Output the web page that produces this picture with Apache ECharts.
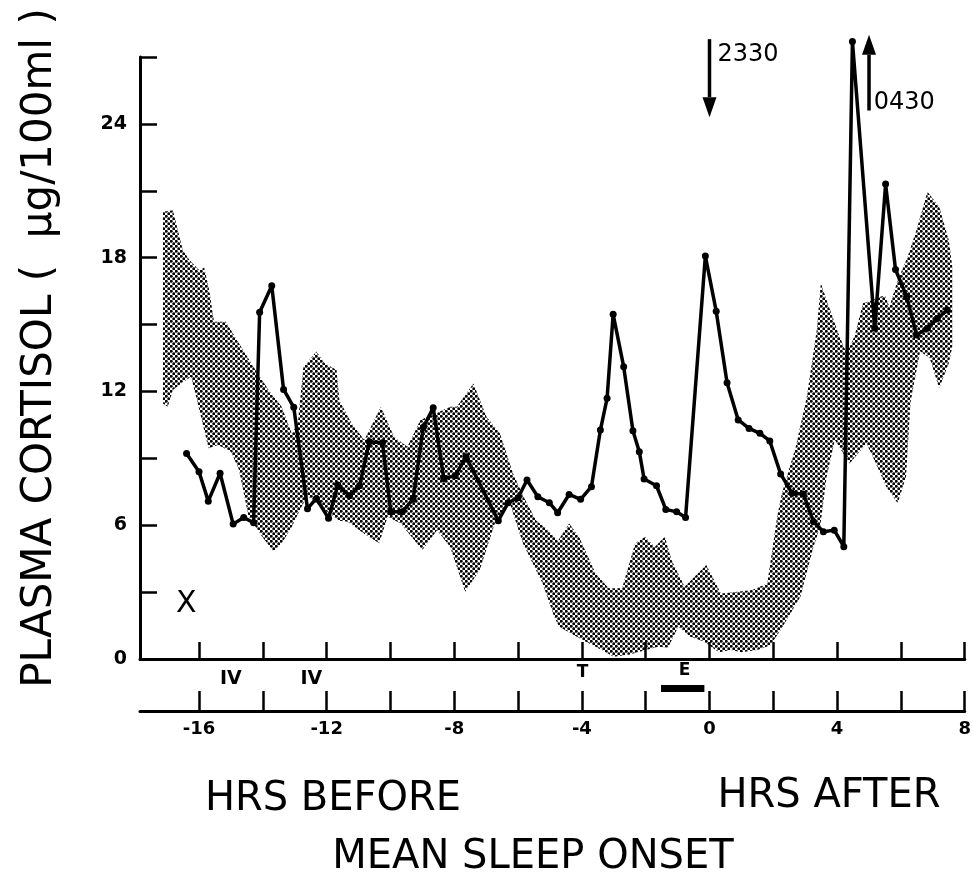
<!DOCTYPE html>
<html>
<head>
<meta charset="utf-8">
<script src="https://cdn.jsdelivr.net/npm/echarts@6/dist/echarts.min.js"></script>
<style>
  html, body { margin: 0; padding: 0; background: #fff; }
  #chart { width: 974px; height: 882px; }
</style>
</head>
<body>
<div id="chart"></div>
<script>
// plasma cortisol, hours relative to mean sleep onset
var hours = [-16.39, -16.0, -15.71, -15.34, -14.93, -14.6, -14.29, -14.1, -13.72, -13.35, -13.03,
  -12.6, -12.32, -11.94, -11.65, -11.28, -10.97, -10.66, -10.25, -9.99, -9.63, -9.29, -8.97, -8.66,
  -8.33, -7.97, -7.63, -6.62, -6.31, -6.0, -5.72, -5.38, -5.02, -4.76, -4.4, -4.04, -3.7, -3.42,
  -3.21, -3.02, -2.69, -2.4, -2.2, -2.05, -1.66, -1.37, -1.03, -0.75, -0.13, 0.21, 0.55, 0.9, 1.24,
  1.58, 1.89, 2.23, 2.59, 2.94, 3.26, 3.57, 3.91, 4.21, 4.48, 5.18, 5.52, 5.83, 6.18, 6.49, 6.83,
  7.14, 7.45];
var cortisol = [9.22, 8.4, 7.08, 8.33, 6.05, 6.35, 6.11, 15.55, 16.74, 12.09, 11.29,
  6.74, 7.2, 6.31, 7.8, 7.32, 7.77, 9.74, 9.7, 6.6, 6.6, 7.17, 10.39, 11.27,
  8.1, 8.22, 9.07, 6.2, 7.01, 7.23, 8.03, 7.28, 7.01, 6.56, 7.38, 7.16, 7.73, 10.27,
  11.69, 15.46, 13.11, 10.24, 9.3, 8.07, 7.77, 6.71, 6.6, 6.35, 18.07, 15.6, 12.39, 10.72, 10.34,
  10.12, 9.78, 8.3, 7.43, 7.4, 6.16, 5.71, 5.78, 5.04, 27.7, 14.83, 21.3, 17.47, 16.25, 14.53, 14.83,
  15.27, 15.65];

// shaded normal range
var bandUpperHours = [-17.13, -16.82, -16.51, -16.3, -15.99, -15.84, -15.68, -15.53, -15.16, -14.75,
  -14.23, -13.82, -13.41, -13.09, -12.9, -12.73, -12.32, -12.06, -11.69, -11.6, -11.22, -10.82, -10.3,
  -9.89, -9.47, -9.06, -8.6, -8.13, -7.92, -7.4, -6.99, -6.57, -6.16, -5.8, -5.43, -5.12, -4.75, -4.4,
  -4.09, -3.57, -3.16, -2.74, -2.33, -2.02, -1.71, -1.4, -1.19, -0.78, -0.1, 0.36, 0.88, 1.34, 1.81,
  2.12, 2.27, 2.7, 3.05, 3.36, 3.49, 3.67, 4.04, 4.3, 4.55, 4.81, 5.12, 5.49, 5.64, 5.9, 6.2, 6.5,
  6.83, 7.2, 7.5, 7.61];
var bandUpperValues = [20.06, 20.13, 18.34, 17.9, 17.44, 17.56, 16.55, 15.13, 15.13, 14.16,
  12.96, 12.06, 11.31, 10.1, 10.6, 13.1, 13.79, 13.26, 12.96, 11.61, 10.57, 9.82, 11.31,
  9.97, 9.52, 10.72, 11.0, 11.31, 11.31, 12.36, 10.87, 10.12, 8.33, 7.2, 6.2, 5.86, 5.3, 6.08,
  5.48, 3.84, 3.17, 3.17, 5.19, 5.48, 5.04, 5.48, 4.44, 3.24, 4.22, 2.94, 3.02, 3.09, 3.39,
  6.38, 7.43, 9.5, 11.76, 14.75, 16.85, 16.1, 14.6, 13.7, 14.5, 15.95, 16.1, 16.32, 15.8, 17.0, 18.0, 19.3,
  20.96, 20.28, 18.79, 17.59];
var bandLowerHours = [-17.13, -16.98, -16.82, -16.56, -16.25, -16.04, -15.84, -15.7, -15.4, -15.0,
  -14.75, -14.45, -14.03, -13.66, -13.41, -13.09, -12.8, -12.6, -12.0, -11.6, -11.34, -10.8, -10.35,
  -10.09, -9.68, -9.0, -8.54, -8.13, -7.66, -7.2, -6.73, -6.26, -5.85, -5.23, -4.87, -4.71, -3.98,
  -3.57, -3.0, -2.5, -2.0, -1.6, -1.3, -0.98, -0.6, -0.2, 0.3, 0.67, 1.0, 1.5, 1.9, 2.23, 2.85, 3.26,
  3.47, 3.67, 3.93, 4.39, 4.92, 5.12, 5.54, 5.9, 6.16, 6.3, 6.6, 6.9, 7.2, 7.5, 7.61];
var bandLowerValues = [11.46, 11.31, 12.06, 12.36, 12.66, 11.47, 10.27, 9.45, 9.6, 9.3,
  8.5, 6.4, 5.5, 4.81, 5.18, 5.93, 6.8, 7.3, 6.6, 6.2, 6.16, 5.6, 5.19,
  6.38, 6.08, 4.89, 5.78, 5.04, 3.02, 3.99, 6.08, 6.98, 5.19, 3.39, 1.9, 1.45, 0.85,
  0.55, 0.1, 0.2, 0.4, 0.55, 0.5, 1.45, 1.0, 0.8, 0.3, 0.4, 0.3, 0.4, 0.6, 1.3, 2.79, 5.04,
  5.93, 8.17, 9.82, 8.77, 9.67, 9.07, 7.73, 6.98, 8.17, 11.5, 13.8, 13.5, 12.14, 13.26, 14.0];

var xTickValues = [-16, -14, -12, -10, -8, -6, -4, -2, 0, 2, 4, 6, 8];
var xLabelValues = [-16, -12, -8, -4, 0, 4, 8];
var yLabelValues = [0, 6, 12, 18, 24];

var chartDom = document.getElementById('chart');
var myChart = echarts.init(chartDom);

// stipple used for the shaded band
function dotPattern() {
  var c = document.createElement('canvas');
  c.width = 5; c.height = 5;
  var ctx = c.getContext('2d');
  ctx.fillStyle = '#000';
  [[1.25, 1.25], [3.75, 3.75]].forEach(function (p) {
    ctx.beginPath();
    ctx.arc(p[0], p[1], 1.45, 0, Math.PI * 2);
    ctx.fill();
  });
  return c;
}
var dots = dotPattern();

var font = 'DejaVu Sans';
var axisLine = { show: true, onZero: false, lineStyle: { color: '#000', width: 3 } };

myChart.setOption({
  animation: false,
  backgroundColor: '#fff',
  grid: { left: 140, right: 4, top: 57, bottom: 223 },
  xAxis: [
    {
      type: 'value', min: -17.85, max: 8, position: 'bottom',
      axisLine: axisLine,
      axisTick: { show: true, inside: true, length: 17, lineStyle: { color: '#000', width: 2.5 }, customValues: xTickValues },
      axisLabel: { show: false },
      splitLine: { show: false }
    },
    {
      type: 'value', min: -17.85, max: 8, position: 'bottom', offset: 52,
      axisLine: axisLine,
      axisTick: { show: true, inside: true, length: 20, lineStyle: { color: '#000', width: 2.5 }, customValues: xTickValues },
      axisLabel: { customValues: xLabelValues, color: '#000', fontFamily: font, fontWeight: 'bold', fontSize: 18, margin: 9 },
      splitLine: { show: false }
    }
  ],
  yAxis: {
    type: 'value', min: 0, max: 27, interval: 3, position: 'left',
    axisLine: axisLine,
    axisTick: { show: true, inside: true, length: 17, lineStyle: { color: '#000', width: 2.5 } },
    axisLabel: { customValues: yLabelValues, color: '#000', fontFamily: font, fontWeight: 'bold', fontSize: 19, margin: 13 },
    splitLine: { show: false }
  },
  series: [
    {
      // shaded band
      type: 'custom',
      data: [[bandUpperHours[0], bandUpperValues[0]]],
      silent: true,
      z: 1,
      renderItem: function (params, api) {
        var pts = [];
        for (var i = 0; i < bandUpperHours.length; i++) {
          pts.push(api.coord([bandUpperHours[i], bandUpperValues[i]]));
        }
        for (var j = bandLowerHours.length - 1; j >= 0; j--) {
          pts.push(api.coord([bandLowerHours[j], bandLowerValues[j]]));
        }
        return {
          type: 'polygon',
          shape: { points: pts },
          style: { fill: { type: 'pattern', image: dots, repeat: 'repeat' } }
        };
      }
    },
    {
      type: 'line',
      data: hours.map(function (h, i) { return [h, cortisol[i]]; }),
      symbol: 'circle',
      symbolSize: 7,
      clip: false,
      z: 3,
      lineStyle: { color: '#000', width: 3.5 },
      itemStyle: { color: '#000' }
    }
  ]
});

// annotations, placed through the chart's own scales
function px(h, v) { return myChart.convertToPixel({ gridIndex: 0 }, [h, v]); }
function label(text, p, size, weight) {
  return { type: 'text', x: p[0], y: p[1], z: 10,
    style: { text: text, fill: '#000', font: (weight || 'normal') + ' ' + size + 'px "' + font + '"', align: 'center', verticalAlign: 'middle' } };
}
function arrow(h, vFrom, vTo) {
  var a = px(h, vFrom), b = px(h, vTo);
  var dir = b[1] > a[1] ? 1 : -1;
  var headLen = 20, headW = 7;
  return [
    { type: 'line', z: 10, shape: { x1: a[0], y1: a[1], x2: b[0], y2: b[1] - dir * headLen }, style: { stroke: '#000', lineWidth: 3.5 } },
    { type: 'polygon', z: 10, shape: { points: [[b[0] - headW, b[1] - dir * headLen], [b[0] + headW, b[1] - dir * headLen], [b[0], b[1]]] }, style: { fill: '#000' } }
  ];
}

var axisY = px(0, 0)[1];
var barA = px(-1.52, 0), barB = px(-0.16, 0);
var graphics = [
  { type: 'text', x: 40, y: 348, rotation: Math.PI / 2, z: 10,
    style: { text: 'PLASMA CORTISOL (  \u00b5g/100ml )', fill: '#000', font: '42px "' + font + '"', align: 'center', verticalAlign: 'middle' } },
  label('HRS BEFORE', [333, 800], 40),
  label('HRS AFTER', [829, 797], 40),
  label('MEAN SLEEP ONSET', [533, 858], 40),
  label('X', px(-16.4, 2.45), 30),
  label('IV', [px(-15.0, 0)[0], axisY + 20], 19, 'bold'),
  label('IV', [px(-12.48, 0)[0], axisY + 20], 19, 'bold'),
  label('T', [px(-3.98, 0)[0], axisY + 14], 17, 'bold'),
  label('E', [px(-0.78, 0)[0], axisY + 12], 17, 'bold'),
  { type: 'rect', z: 10, shape: { x: barA[0], y: axisY + 26, width: barB[0] - barA[0], height: 7 }, style: { fill: '#000' } },
  { type: 'text', x: px(0.25, 0)[0], y: px(0, 27.1)[1], z: 10,
    style: { text: '2330', fill: '#000', font: '24px "' + font + '"', align: 'left', verticalAlign: 'middle' } },
  { type: 'text', x: px(5.15, 0)[0], y: px(0, 24.95)[1], z: 10,
    style: { text: '0430', fill: '#000', font: '24px "' + font + '"', align: 'left', verticalAlign: 'middle' } }
].concat(arrow(0, 27.8, 24.3), arrow(5.0, 24.6, 28.0));

myChart.setOption({ graphic: graphics });
window.onresize = myChart.resize;
</script>
</body>
</html>
